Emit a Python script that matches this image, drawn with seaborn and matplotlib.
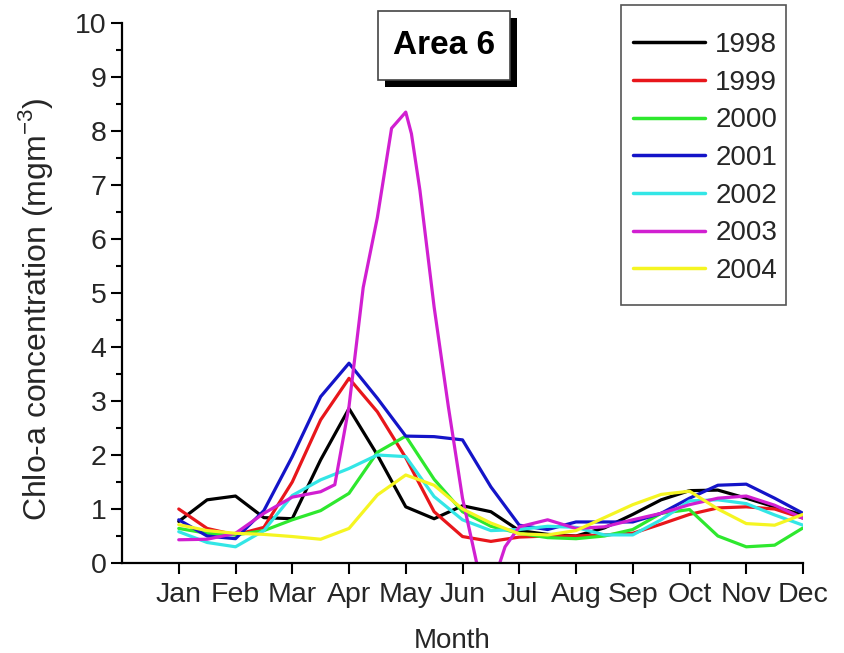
import numpy as np
import pandas as pd
import matplotlib
matplotlib.use('Agg')
import matplotlib.pyplot as plt
import matplotlib.patches as mpatches
from matplotlib.ticker import MultipleLocator
import seaborn as sns

# values at half-month steps (Jan = 1 ... Dec = 12)
months = [1, 1.5, 2, 2.5, 3, 3.5, 4, 4.5, 5, 5.5, 6, 6.5, 7, 7.5, 8, 8.5, 9, 9.5, 10, 10.5, 11, 11.5, 12]
month_labels = ['Jan', 'Feb', 'Mar', 'Apr', 'May', 'Jun', 'Jul', 'Aug', 'Sep', 'Oct', 'Nov', 'Dec']

y1998 = [0.77, 1.17, 1.24, 0.84, 0.82, 1.91, 2.86, 2.0, 1.04, 0.82, 1.06, 0.95, 0.6, 0.53, 0.5, 0.65, 0.9, 1.17, 1.34, 1.35, 1.2, 1.04, 0.89]
y1999 = [1.0, 0.64, 0.52, 0.66, 1.5, 2.65, 3.42, 2.8, 1.95, 0.95, 0.49, 0.4, 0.48, 0.5, 0.5, 0.52, 0.55, 0.72, 0.9, 1.02, 1.04, 1.0, 0.83]
y2000 = [0.64, 0.55, 0.52, 0.6, 0.8, 0.97, 1.29, 2.05, 2.35, 1.55, 0.95, 0.68, 0.55, 0.47, 0.45, 0.5, 0.62, 0.92, 0.99, 0.5, 0.3, 0.33, 0.65]
y2001 = [0.8, 0.5, 0.45, 0.97, 1.97, 3.08, 3.7, 3.05, 2.35, 2.34, 2.28, 1.41, 0.7, 0.62, 0.76, 0.76, 0.76, 0.92, 1.2, 1.44, 1.46, 1.2, 0.92]
y2002 = [0.58, 0.38, 0.3, 0.6, 1.25, 1.54, 1.75, 2.0, 1.97, 1.23, 0.8, 0.6, 0.62, 0.68, 0.66, 0.52, 0.52, 0.8, 1.15, 1.17, 1.1, 0.89, 0.7]
y2004 = [0.71, 0.6, 0.55, 0.53, 0.49, 0.44, 0.64, 1.26, 1.63, 1.44, 1.0, 0.74, 0.54, 0.52, 0.6, 0.84, 1.08, 1.27, 1.33, 1.0, 0.73, 0.7, 0.9]

# 2003 has a sharp bloom, read at finer steps around May/June
months2003 = [1, 1.5, 2, 2.5, 3, 3.5, 3.75, 4, 4.25, 4.5, 4.75, 5, 5.1, 5.25, 5.5, 5.75, 6, 6.25, 6.5, 6.75,
              7, 7.5, 8, 8.5, 9, 9.5, 10, 10.5, 11, 11.5, 12]
y2003 = [0.43, 0.44, 0.55, 0.92, 1.22, 1.32, 1.45, 2.9, 5.1, 6.4, 8.05, 8.35, 7.95, 6.9, 4.74, 2.9, 1.2, 0.0, -0.5, 0.3,
         0.67, 0.8, 0.64, 0.67, 0.8, 0.92, 1.08, 1.2, 1.24, 1.07, 0.83]

years = ['1998', '1999', '2000', '2001', '2002', '2003', '2004']
colors = ['#000000', '#e8161b', '#2ee82e', '#1414c8', '#33e6e6', '#d11fd1', '#f5f522']


def build_df():
    parts = []
    for yr, vals in zip(years, [y1998, y1999, y2000, y2001, y2002, None, y2004]):
        if yr == '2003':
            parts.append(pd.DataFrame({'month': months2003, 'chl': y2003, 'year': yr}))
        else:
            parts.append(pd.DataFrame({'month': months, 'chl': vals, 'year': yr}))
    return pd.concat(parts, ignore_index=True)


if __name__ == '__main__':
    sns.set_theme(style='ticks')
    plt.rcParams['font.family'] = ['Liberation Sans', 'DejaVu Sans']
    plt.rcParams['mathtext.fontset'] = 'custom'
    plt.rcParams['mathtext.rm'] = 'Liberation Sans'

    df = build_df()

    fig = plt.figure(figsize=(8.44, 6.53), dpi=100)
    ax = fig.add_axes([122 / 844, 1 - 563 / 653, 681 / 844, 540 / 653])

    sns.lineplot(data=df, x='month', y='chl', hue='year', hue_order=years,
                 palette=dict(zip(years, colors)), estimator=None, sort=False,
                 linewidth=2.3, ax=ax, legend=False)
    for ln in ax.lines:
        ln.set_solid_joinstyle('round')
        ln.set_solid_capstyle('round')

    ax.set_xlim(0, 12)
    ax.set_ylim(0, 10)
    ax.set_xticks(range(1, 13))
    ax.set_xticklabels(month_labels)
    ax.yaxis.set_major_locator(MultipleLocator(1))
    ax.yaxis.set_minor_locator(MultipleLocator(0.5))
    ax.tick_params(axis='x', which='major', labelsize=20.5, length=8, width=1.5, color='black', pad=6)
    ax.tick_params(axis='y', which='major', labelsize=20.5, length=8, width=1.5, color='black', pad=3)
    ax.tick_params(axis='y', which='minor', length=4, width=1.5, color='black')
    for s in ['top', 'right']:
        ax.spines[s].set_visible(False)
    for s in ['left', 'bottom']:
        ax.spines[s].set_linewidth(1.6)
        ax.spines[s].set_color('black')

    ax.set_xlabel('Month', fontsize=20)
    ax.set_ylabel(r'Chlo-a concentration (mgm$^{\mathregular{-3}}$)', fontsize=23)
    ax.xaxis.set_label_coords(0.485, -0.12)
    ax.yaxis.set_label_coords(-0.098, 0.47)

    # title box with drop shadow
    fig.add_artist(mpatches.Rectangle((385 / 844, 1 - 87 / 653), 132 / 844, 69 / 653,
                                      transform=fig.transFigure, facecolor='black', edgecolor='none'))
    fig.add_artist(mpatches.Rectangle((378 / 844, 1 - 80 / 653), 132 / 844, 69 / 653,
                                      transform=fig.transFigure, facecolor='white',
                                      edgecolor='#444444', linewidth=1.2))
    fig.text(444 / 844, 1 - 46 / 653, 'Area 6', ha='center', va='center',
             fontsize=24, fontweight='bold', color='black')

    # legend
    handles = [plt.Line2D([], [], color=c, lw=2.5) for c in colors]
    ax.legend(handles, years, loc='upper left', bbox_to_anchor=(633 / 844, 1 - 32 / 653),
              bbox_transform=fig.transFigure, frameon=False, fontsize=20, borderpad=0,
              handlelength=2.6, handletextpad=0.36, labelspacing=0.42, borderaxespad=0)
    fig.add_artist(mpatches.Rectangle((621 / 844, 1 - 305 / 653), 165 / 844, 300 / 653,
                                      transform=fig.transFigure, fill=False,
                                      edgecolor='#555555', linewidth=1.2))

    fig.savefig('out.png', dpi=100)
